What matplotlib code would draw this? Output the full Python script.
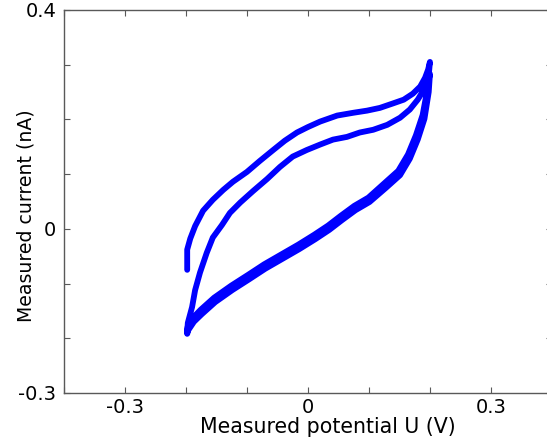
import numpy as np
import matplotlib
matplotlib.use('Agg')
import matplotlib.pyplot as plt
from matplotlib.ticker import FixedLocator, FixedFormatter

# cyclic voltammogram, potential in V, current in nA
# first sweep up (outer branch)
u_up1 = [-0.198, -0.198, -0.193, -0.185, -0.172, -0.156, -0.139, -0.123, -0.100,
         -0.079, -0.057, -0.038, -0.018, 0.000, 0.020, 0.048, 0.074, 0.097,
         0.118, 0.139, 0.157, 0.172, 0.184, 0.192, 0.197, 0.200]
i_up1 = [-0.075, -0.038, -0.018, 0.005, 0.033, 0.053, 0.071, 0.086, 0.104,
         0.124, 0.144, 0.161, 0.176, 0.186, 0.196, 0.207, 0.212, 0.216,
         0.221, 0.229, 0.236, 0.247, 0.260, 0.276, 0.291, 0.305]
# first sweep down
u_dn1 = [0.200, 0.196, 0.188, 0.177, 0.164, 0.148, 0.125, 0.099, 0.076, 0.054,
         0.033, 0.010, -0.016, -0.044, -0.072, -0.098, -0.126, -0.154, -0.176,
         -0.189, -0.197, -0.198]
i_dn1 = [0.305, 0.256, 0.208, 0.171, 0.136, 0.106, 0.083, 0.057, 0.042, 0.024,
         0.006, -0.011, -0.029, -0.047, -0.065, -0.084, -0.104, -0.126, -0.148,
         -0.163, -0.178, -0.186]
# second sweep up (inner branch)
u_up2 = [-0.198, -0.197, -0.190, -0.185, -0.177, -0.166, -0.156, -0.141, -0.128,
         -0.111, -0.090, -0.067, -0.046, -0.025, -0.002, 0.020, 0.041, 0.064,
         0.085, 0.107, 0.130, 0.151, 0.167, 0.180, 0.192, 0.198, 0.200]
i_up2 = [-0.190, -0.172, -0.143, -0.112, -0.080, -0.044, -0.016, 0.007, 0.029,
         0.048, 0.069, 0.091, 0.113, 0.132, 0.144, 0.154, 0.163, 0.168,
         0.176, 0.181, 0.190, 0.203, 0.218, 0.236, 0.258, 0.272, 0.283]
# second sweep down
u_dn2 = [0.200, 0.198, 0.191, 0.180, 0.167, 0.151, 0.128, 0.101, 0.078, 0.056,
         0.035, 0.012, -0.014, -0.042, -0.070, -0.096, -0.124, -0.152, -0.174,
         -0.187, -0.196, -0.198]
i_dn2 = [0.283, 0.250, 0.201, 0.163, 0.128, 0.098, 0.075, 0.049, 0.034, 0.016,
         -0.002, -0.019, -0.037, -0.055, -0.073, -0.092, -0.112, -0.134, -0.156,
         -0.170, -0.185, -0.192]

x_ticks = [-0.4, -0.3, -0.2, -0.1, 0.0, 0.1, 0.2, 0.3, 0.4]
x_labels = ['', '-0.3', '', '', '0', '', '', '0.3', '']
y_ticks = [-0.3, -0.2, -0.1, 0.0, 0.1, 0.2, 0.3, 0.4]
y_labels = ['-0.3', '', '', '0', '', '', '', '0.4']

u = np.concatenate([u_up1, u_dn1, u_up2, u_dn2])
i = np.concatenate([i_up1, i_dn1, i_up2, i_dn2])

fig = plt.figure(figsize=(5.47, 4.42), dpi=100)
ax = fig.add_axes([0.117, 0.111, 0.892, 0.8665])
ax.plot(u, i, color='#0000ff', lw=4.2, solid_joinstyle='round', solid_capstyle='round')

ax.set_xlim(-0.4, 0.4)
ax.set_ylim(-0.3, 0.4)
ax.xaxis.set_major_locator(FixedLocator(x_ticks))
ax.xaxis.set_major_formatter(FixedFormatter(x_labels))
ax.yaxis.set_major_locator(FixedLocator(y_ticks))
ax.yaxis.set_major_formatter(FixedFormatter(y_labels))
ax.tick_params(direction='in', top=True, right=True, length=4, width=0.8,
               color='0.35', labelsize=14)
ax.tick_params(axis='x', pad=4)
ax.tick_params(axis='y', pad=5.5)
for s in ax.spines.values():
    s.set_color('0.35')
    s.set_linewidth(1.0)

ax.set_xlabel('Measured potential U (V)', fontsize=14.8)
ax.xaxis.set_label_coords(0.541, -0.064)
ax.set_ylabel('Measured current (nA)', fontsize=13.6)
ax.yaxis.set_label_coords(-0.058, 0.462)

fig.savefig('out.png', dpi=100)
